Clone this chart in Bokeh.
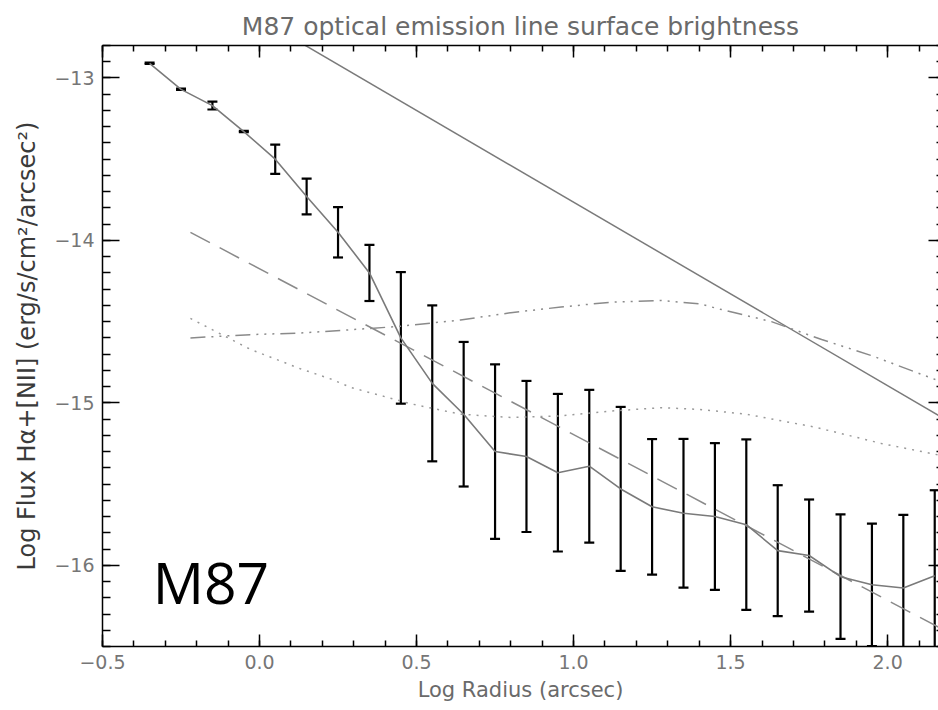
from bokeh.plotting import figure
from bokeh.models import (ColumnDataSource, Whisker, TeeHead, LinearAxis,
                          FixedTicker, Label, Range1d, CustomLabelingPolicy)
from bokeh.embed import file_html
from bokeh.resources import INLINE

# Radial profile of the H-alpha+[NII] surface brightness (log units)
log_radius = [-0.35, -0.25, -0.15, -0.05, 0.05, 0.15, 0.25, 0.35, 0.45, 0.55,
              0.65, 0.75, 0.85, 0.95, 1.05, 1.15, 1.25, 1.35, 1.45, 1.55,
              1.65, 1.75, 1.85, 1.95, 2.05, 2.15]
log_flux = [-12.91, -13.07, -13.17, -13.33, -13.50, -13.73, -13.95, -14.20,
            -14.60, -14.88, -15.07, -15.30, -15.33, -15.43, -15.39, -15.53,
            -15.64, -15.68, -15.70, -15.75, -15.91, -15.94, -16.07, -16.12,
            -16.14, -16.065]
flux_err = [0.004, 0.004, 0.024, 0.004, 0.09, 0.11, 0.155, 0.173,
            0.405, 0.48, 0.445, 0.537, 0.465, 0.485, 0.47, 0.505,
            0.417, 0.458, 0.452, 0.525, 0.403, 0.345, 0.383, 0.377,
            0.45, 0.527]

# Straight power-law reference line
powerlaw_x = [-0.5, 2.2]
powerlaw_y = [-12.07, -15.12]

# Dashed power-law fit
fit_x = [-0.22, 2.2]
fit_y = [-13.95, -16.42]

# Dotted model profile
dotted_x = [-0.22, -0.03, 0.13, 0.23, 0.29, 0.43, 0.48, 0.64, 0.80, 0.96,
            1.12, 1.28, 1.40, 1.55, 1.77, 1.98, 2.16, 2.2]
dotted_y = [-14.48, -14.67, -14.79, -14.855, -14.905, -14.978, -15.005,
            -15.07, -15.09, -15.08, -15.05, -15.03, -15.04, -15.07, -15.15,
            -15.25, -15.32, -15.34]

# Dash-dot-dot-dot model profile
dashdot_x = [-0.22, -0.03, 0.13, 0.29, 0.44, 0.64, 0.80, 0.96, 1.12, 1.28,
             1.40, 1.47, 1.63, 1.79, 1.95, 2.15, 2.2]
dashdot_y = [-14.60, -14.58, -14.57, -14.55, -14.53, -14.49, -14.445, -14.41,
             -14.38, -14.37, -14.39, -14.425, -14.50, -14.61, -14.71, -14.855,
             -14.89]

x_major = [-0.5, 0.0, 0.5, 1.0, 1.5, 2.0]
x_minor = [round(-0.5 + 0.1 * i, 1) for i in range(28)]
y_major = [-16, -15, -14, -13]
y_minor = [round(-16.5 + 0.1 * i, 1) for i in range(38)]

TEXT_FONT = "DejaVu Sans"
TICK_COLOR = "#767676"

p = figure(frame_width=836, frame_height=601,
           x_range=Range1d(-0.5, 2.162), y_range=Range1d(-16.5, -12.8),
           output_backend="svg", toolbar_location=None,
           x_axis_location=None, y_axis_location=None,
           min_border_left=102, min_border_right=0,
           min_border_top=45, min_border_bottom=64,
           title="M87 optical emission line surface brightness")
p.outline_line_color = None
p.xgrid.visible = False
p.ygrid.visible = False
p.background_fill_color = "white"
p.border_fill_color = "white"

p.title.align = "center"
p.title.text_font = TEXT_FONT
p.title.text_font_size = "25px"
p.title.text_font_style = "normal"
p.title.text_color = "#6a6a6a"


def make_axis(kind, major, minor, tick_in, minor_in, labels):
    ax = LinearAxis(ticker=FixedTicker(ticks=major, minor_ticks=minor))
    ax.major_tick_in = tick_in
    ax.major_tick_out = 0
    ax.minor_tick_in = minor_in
    ax.minor_tick_out = 0
    ax.major_tick_line_color = "black"
    ax.minor_tick_line_color = "black"
    ax.major_tick_line_width = 1.5
    ax.minor_tick_line_width = 1.5
    ax.axis_line_color = "black"
    ax.axis_line_width = 1.5
    if labels:
        ax.major_label_overrides = {
            t: (f"{t:.1f}" if kind == "x" else f"{t:d}").replace("-", "\u2212")
            for t in major}
        ax.major_label_text_font = TEXT_FONT
        ax.major_label_text_font_size = "19px"
        ax.major_label_text_color = TICK_COLOR
        ax.major_label_standoff = 8
    else:
        # mirrored frame axis: ticks only, no labels
        ax.major_label_policy = CustomLabelingPolicy(code="return new Set()")
        ax.major_label_text_font_size = "0px"
        ax.major_label_standoff = 0
    return ax


bottom = make_axis("x", x_major, x_minor, 12, 6, True)
bottom.axis_label = "Log Radius (arcsec)"
bottom.axis_label_text_font = TEXT_FONT
bottom.axis_label_text_font_size = "21px"
bottom.axis_label_text_font_style = "normal"
bottom.axis_label_text_color = "#6a6a6a"
bottom.axis_label_standoff = 6
p.add_layout(bottom, "below")

top = make_axis("x", x_major, x_minor, 12, 6, False)
p.add_layout(top, "above")

left = make_axis("y", y_major, y_minor, 17, 8, True)
left.axis_label = "Log Flux H\u03b1+[NII] (erg/s/cm\u00b2/arcsec\u00b2)"
left.axis_label_text_font = TEXT_FONT
left.axis_label_text_font_size = "24px"
left.axis_label_text_font_style = "normal"
left.axis_label_text_color = "#3a3a3a"
left.axis_label_standoff = 10
p.add_layout(left, "left")

right = make_axis("y", y_major, y_minor, 10, 2, False)
right.axis_line_color = None
p.add_layout(right, "right")

# Model curves
p.line(powerlaw_x, powerlaw_y, line_color="#7a7a7a", line_width=1.5)
p.line(fit_x, fit_y, line_color="#8a8a8a", line_width=1.5, line_dash="22 11")
p.line(dotted_x, dotted_y, line_color="#9a9a9a", line_width=1.5, line_dash="2 6")
p.line(dashdot_x, dashdot_y, line_color="#8a8a8a", line_width=1.5,
       line_dash="15 6 2 6 2 6 2 6")

# Measured profile with error bars
src = ColumnDataSource(dict(
    x=log_radius, y=log_flux,
    upper=[f + e for f, e in zip(log_flux, flux_err)],
    lower=[f - e for f, e in zip(log_flux, flux_err)],
))
p.line("x", "y", source=src, line_color="#7a7a7a", line_width=1.6)
p.add_layout(Whisker(source=src, base="x", upper="upper", lower="lower",
                     line_color="black", line_width=2.2,
                     upper_head=TeeHead(size=10, line_color="black", line_width=2.2),
                     lower_head=TeeHead(size=10, line_color="black", line_width=2.2)))

# Galaxy tag in the lower left corner
tag_x, tag_y = -0.34, -16.10
p.add_layout(Label(x=tag_x, y=tag_y, text="M87", text_font="Open Sans",
                   text_font_size="57px", text_color="black",
                   text_baseline="alphabetic"))

open("out.html", "w").write(file_html(p, INLINE))
